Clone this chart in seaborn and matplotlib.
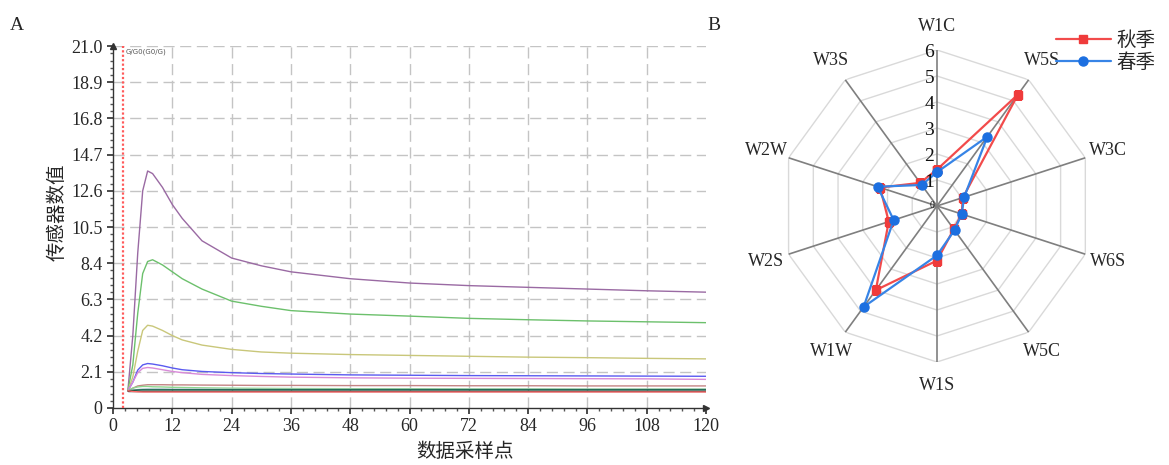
import numpy as np
import pandas as pd
import seaborn as sns
import matplotlib.pyplot as plt

sns.set_theme(style="white")
plt.rcParams['font.family'] = ['Liberation Serif', 'Noto Sans CJK SC', 'DejaVu Sans']
plt.rcParams['axes.unicode_minus'] = False

# ---------------- panel A data: sensor response curves ----------------
x_pts = [3, 4, 5, 6, 7, 8, 10, 12, 14, 18, 24, 30, 36, 48, 60, 72, 84, 96, 108, 120]

s_purple = [1.0, 4.2, 9.0, 12.6, 13.75, 13.6, 12.8, 11.8, 11.0, 9.7, 8.7, 8.25, 7.9, 7.5, 7.25, 7.1, 7.0, 6.9, 6.8, 6.72]
s_green = [1.0, 2.5, 5.5, 7.8, 8.5, 8.6, 8.3, 7.9, 7.5, 6.9, 6.2, 5.9, 5.65, 5.45, 5.33, 5.2, 5.12, 5.05, 5.0, 4.95]
s_olive = [1.0, 1.8, 3.3, 4.5, 4.8, 4.75, 4.5, 4.2, 3.95, 3.65, 3.4, 3.25, 3.18, 3.1, 3.05, 3.0, 2.95, 2.92, 2.88, 2.85]
s_blue = [1.0, 1.5, 2.2, 2.5, 2.58, 2.55, 2.45, 2.32, 2.22, 2.12, 2.05, 2.0, 1.97, 1.92, 1.9, 1.88, 1.87, 1.86, 1.85, 1.84]
s_magenta = [1.0, 1.5, 2.05, 2.3, 2.35, 2.32, 2.22, 2.12, 2.05, 1.95, 1.88, 1.83, 1.79, 1.75, 1.73, 1.72, 1.71, 1.7, 1.69, 1.66]
s_brown = [1.0, 1.15, 1.28, 1.32, 1.35, 1.35, 1.35, 1.34, 1.34, 1.33, 1.32, 1.31, 1.31, 1.3, 1.3, 1.29, 1.29, 1.28, 1.28, 1.28]
s_lgreen = [1.0, 1.15, 1.22, 1.25, 1.25, 1.23, 1.22, 1.2, 1.19, 1.17, 1.15, 1.14, 1.13, 1.12, 1.12, 1.11, 1.11, 1.1, 1.1, 1.1]
s_grey = [1.0, 1.04, 1.07, 1.09, 1.1, 1.1, 1.1, 1.09, 1.09, 1.09, 1.08, 1.08, 1.08, 1.08, 1.08, 1.08, 1.08, 1.08, 1.08, 1.08]
s_dgreen = [1.0, 1.02, 1.04, 1.05, 1.05, 1.05, 1.05, 1.05, 1.05, 1.05, 1.05, 1.05, 1.05, 1.05, 1.05, 1.05, 1.05, 1.05, 1.05, 1.05]
s_black = [1.0, 1.0, 1.0, 1.0, 1.0, 1.0, 1.0, 1.0, 1.0, 1.0, 1.0, 1.0, 1.0, 1.0, 1.0, 1.0, 1.0, 1.0, 1.0, 1.0]
s_red = [1.0, 0.96, 0.94, 0.93, 0.93, 0.93, 0.93, 0.93, 0.93, 0.93, 0.93, 0.93, 0.93, 0.93, 0.93, 0.93, 0.93, 0.93, 0.93, 0.93]

series = {
    "purple": s_purple, "green": s_green, "olive": s_olive, "blue": s_blue,
    "magenta": s_magenta, "brown": s_brown, "lgreen": s_lgreen, "grey": s_grey,
    "dgreen": s_dgreen, "black": s_black, "red": s_red,
}
palette = {
    "purple": "#9a6aa3", "green": "#6cc06c", "olive": "#c9c77a", "blue": "#5a5af0",
    "magenta": "#d98ad9", "brown": "#c48484", "lgreen": "#8fd68f", "grey": "#9fb4c0",
    "dgreen": "#0a5c40", "black": "#222222", "red": "#ff6b6b",
}

y_ticks = [0, 2.1, 4.2, 6.3, 8.4, 10.5, 12.6, 14.7, 16.8, 18.9, 21.0]
x_ticks = [0, 12, 24, 36, 48, 60, 72, 84, 96, 108, 120]

# ---------------- panel B data: radar ----------------
radar_cats = ["W1C", "W5S", "W3C", "W6S", "W5C", "W1S", "W1W", "W2S", "W2W", "W3S"]
autumn = [1.4, 5.3, 1.05, 1.0, 1.1, 2.1, 4.0, 1.95, 2.3, 1.1]
spring = [1.3, 3.3, 1.1, 1.0, 1.15, 1.9, 4.8, 1.75, 2.4, 1.0]

fig = plt.figure(figsize=(11.69, 4.65), dpi=100)

# ---------------- panel A ----------------
ax = fig.add_axes([0.0967, 0.1226, 0.5073, 0.7784])
rows = []
for name, vals in series.items():
    for xv, yv in zip(x_pts, vals):
        rows.append({"x": xv, "y": yv, "sensor": name})
df = pd.DataFrame(rows)
sns.lineplot(data=df, x="x", y="y", hue="sensor", palette=palette, linewidth=1.0,
             legend=False, ax=ax, sort=False)

ax.set_xlim(0, 120)
ax.set_ylim(0, 21)
ax.set_xticks(x_ticks)
ax.set_yticks(y_ticks)
ax.set_yticklabels([("%.1f" % v if v != 0 else "0") for v in y_ticks])
ax.set_xticks(np.arange(0, 121, 2.4), minor=True)
ax.set_yticks(np.arange(0, 21.01, 0.42), minor=True)
ax.tick_params(axis="both", which="major", labelsize=13, length=4, direction="out", color="#333333")
ax.tick_params(axis="both", which="minor", length=2, direction="out", color="#555555")
ax.tick_params(bottom=True, left=True, which="both")
for yv in y_ticks[1:]:
    ax.axhline(yv, color="#c4c4c4", lw=1.0, ls=(0, (8, 4)), zorder=0)
for xv in x_ticks[1:-1]:
    ax.axvline(xv, color="#c4c4c4", lw=1.0, ls=(0, (8, 4)), zorder=0)
ax.axvline(2, color="#ff5a5a", lw=1.6, ls=(0, (1, 1)), zorder=3)
ax.text(2.6, 20.85, "G/G0(G0/G)", fontsize=5, color="#555555", va="top",
        family=["DejaVu Sans"])
for side in ["top", "right"]:
    ax.spines[side].set_visible(False)
for side in ["left", "bottom"]:
    ax.spines[side].set_color("#333333")
    ax.spines[side].set_linewidth(1.0)
ax.plot([0], [1.0], marker="^", color="#333333", markersize=4, transform=ax.transAxes, clip_on=False)
ax.plot([1.0], [0], marker=">", color="#333333", markersize=4, transform=ax.transAxes, clip_on=False)
ax.set_xlabel("数据采样点", fontsize=14)
ax.set_ylabel("传感器数值", fontsize=14)
ax.xaxis.set_label_coords(0.594, -0.095)
ax.yaxis.set_label_coords(-0.078, 0.54)
fig.text(0.008, 0.935, "A", fontsize=14)

# ---------------- panel B ----------------
ax2 = fig.add_axes([0.668, 0.2215, 0.267, 0.671], projection="polar")
ax2.set_theta_zero_location("N")
ax2.set_theta_direction(-1)
ax2.set_ylim(0, 6)
ax2.grid(False)
ax2.spines["polar"].set_visible(False)
ax2.set_xticks([])
ax2.set_yticks([])
ax2.set_facecolor("none")

n = len(radar_cats)
angles = np.linspace(0, 2 * np.pi, n, endpoint=False)
closed = np.append(angles, angles[0])
for r in range(1, 7):
    ax2.plot(closed, [r] * (n + 1), color="#d9d9d9", lw=1.0, zorder=1)
for a in angles:
    ax2.plot([a, a], [0, 6], color="#7f7f7f", lw=1.2, zorder=2)
for r in range(0, 7):
    ax2.annotate(str(r), xy=(0, r), xytext=(-2, -2 if r else 0), textcoords="offset points",
                 ha="right", va="center",
                 fontsize=14 if r else 7, color="#111111", zorder=6)
for a, lab in zip(angles, radar_cats):
    ax2.text(a, 6.9, lab, ha="center", va="center", fontsize=13)

ax2.plot(closed, np.append(autumn, autumn[0]), color="#f24b4b", lw=1.6, marker="s",
         markersize=6, markerfacecolor="#ef3b3b", markeredgecolor="#ef3b3b", zorder=4, label="秋季")
ax2.plot(closed, np.append(spring, spring[0]), color="#3784e6", lw=1.6, marker="o",
         markersize=6.5, markerfacecolor="#1c6fe0", markeredgecolor="#1c6fe0", zorder=5, label="春季")
fig.text(0.605, 0.935, "B", fontsize=14)

leg = fig.legend(handles=ax2.get_lines()[-2:], loc="upper right", bbox_to_anchor=(1.0, 0.965),
                 frameon=False, handlelength=2.8, borderpad=0.2, labelspacing=0.05,
                 handletextpad=0.3, prop={"family": ["Noto Sans CJK SC"], "size": 14})

fig.savefig("out.png", dpi=100)
